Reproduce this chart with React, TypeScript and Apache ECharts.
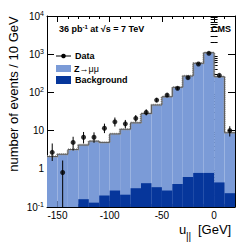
import React, { useEffect, useRef } from 'react';
import * as echarts from 'echarts';

// ---- data ----
const binLow = [-160, -150, -140, -130, -120, -110, -100, -90, -80, -70, -60, -50, -40, -30, -20, -10, 0, 10];
const binWidth = 10;
const mcTotal = [2.1, 2.4, 3.2, 4.2, 5.3, 4.9, 8.2, 10.8, 16, 28, 47, 77, 136, 269, 578, 1095, 258, 8.8];
const background = [0, 0, 0, 0.16, 0.13, 0.2, 0.27, 0.21, 0.31, 0.42, 0.33, 0.27, 0.4, 0.61, 0.78, 0.78, 0.44, 0.23];
const dataVal = [2.7, 0.8, 4.9, 6.7, 6.7, 11.5, 17, 15, 21, 30, 63, 85, 128, 243, 554, 1056, 280, 10];
const dataLow = [1.6, 0.1, 3.0, 4.6, 4.8, 8.6, 12.8, 11.5, 17, 25, 55, 76, 117, 228, 531, 1024, 263, 7];
const dataHigh = [4.6, 1.65, 6.9, 9.2, 9.0, 15.2, 22, 19, 25.5, 36, 71, 94, 139, 258, 577, 1088, 297, 13];
const xTickLabels = [-150, -100, -50, 0];
const yDecades = [0.1, 1, 10, 100, 1000, 10000];

const X_MIN = -160;
const X_MAX = 20;
const Y_MIN = 0.1;
const Y_MAX = 10000;

const LIGHT = '#7b9bd7';
const DARK = '#06369b';
const FONT = '"Liberation Sans", Arial, Helvetica, sans-serif';

const yMinor: number[] = [];
for (let d = 0; d < yDecades.length - 1; d++) {
  for (let k = 2; k <= 9; k++) yMinor.push(Number((yDecades[d] * k).toPrecision(3)));
}

function yFmt(v: number) {
  const e = Math.round(Math.log10(v));
  if (e === 0) return '1';
  if (e === 1) return '10';
  return '10{s|' + e + '}';
}

export default function App() {
  const ref = useRef<HTMLDivElement>(null);
  useEffect(() => {
    if (!ref.current) return;
    const chart = echarts.init(ref.current, null, { renderer: 'svg' });

    const xBase = { type: 'value', min: X_MIN, max: X_MAX, splitLine: { show: false } };
    const yBase = { type: 'log', logBase: 10, min: Y_MIN, max: Y_MAX, splitLine: { show: false } };
    const axisLine = { show: true, onZero: false, lineStyle: { color: '#000', width: 1 } };

    const stepData = binLow.map((lo, i) => [lo, mcTotal[i]]).concat([[X_MAX, mcTotal[mcTotal.length - 1]]]);

    const option: any = {
      animation: false,
      grid: { left: 47, top: 16, right: 9, bottom: 42, containLabel: false },
      xAxis: [
        {
          ...xBase, position: 'bottom', axisLine,
          axisTick: { show: true, inside: true, length: 6, customValues: xTickLabels, lineStyle: { color: '#000' } },
          axisLabel: { show: true, customValues: xTickLabels, fontSize: 10, color: '#000', margin: 3, fontFamily: FONT },
        },
        {
          ...xBase, interval: 10, position: 'bottom', axisLine: { show: false },
          axisTick: { show: true, inside: true, length: 3, lineStyle: { color: '#000' } },
          axisLabel: { show: false },
        },
        {
          ...xBase, position: 'top', axisLine,
          axisTick: { show: true, inside: true, length: 6, customValues: xTickLabels, lineStyle: { color: '#000' } },
          axisLabel: { show: false },
        },
        {
          ...xBase, interval: 10, position: 'top', axisLine: { show: false },
          axisTick: { show: true, inside: true, length: 3, lineStyle: { color: '#000' } },
          axisLabel: { show: false },
        },
      ],
      yAxis: [
        {
          ...yBase, position: 'left', axisLine,
          axisTick: { show: true, inside: true, length: 7, customValues: yDecades, lineStyle: { color: '#000' } },
          axisLabel: {
            show: true, customValues: yDecades, formatter: yFmt, fontSize: 10, color: '#000', margin: 3, fontFamily: FONT,
            rich: { s: { fontSize: 7, fontFamily: FONT, color: '#000', padding: [0, 0, 6, 0] } },
          },
        },
        {
          ...yBase, position: 'left', axisLine: { show: false },
          axisTick: { show: true, inside: true, length: 3.5, customValues: yMinor, lineStyle: { color: '#000' } },
          axisLabel: { show: false },
        },
        {
          ...yBase, position: 'right', axisLine,
          axisTick: { show: true, inside: true, length: 7, customValues: yDecades, lineStyle: { color: '#000' } },
          axisLabel: { show: false },
        },
        {
          ...yBase, position: 'right', axisLine: { show: false },
          axisTick: { show: true, inside: true, length: 3.5, customValues: yMinor, lineStyle: { color: '#000' } },
          axisLabel: { show: false },
        },
      ],
      series: [
        {
          type: 'custom', name: 'mc', xAxisIndex: 0, yAxisIndex: 0, silent: true, z: 1,
          data: binLow.map((lo, i) => [lo, mcTotal[i]]),
          renderItem: (params: any, api: any) => {
            const lo = api.value(0);
            const v = api.value(1);
            const p0 = api.coord([lo, Y_MIN]);
            const p1 = api.coord([lo + binWidth, v]);
            return { type: 'rect', shape: { x: p0[0], y: p1[1], width: p1[0] - p0[0], height: p0[1] - p1[1] }, style: { fill: LIGHT } };
          },
        },
        {
          type: 'custom', name: 'bkg', xAxisIndex: 0, yAxisIndex: 0, silent: true, z: 2,
          data: binLow.map((lo, i) => [lo, background[i]]),
          renderItem: (params: any, api: any) => {
            const lo = api.value(0);
            const v = api.value(1);
            if (!(v > Y_MIN)) return null;
            const p0 = api.coord([lo, Y_MIN]);
            const p1 = api.coord([lo + binWidth, v]);
            return { type: 'rect', shape: { x: p0[0], y: p1[1], width: p1[0] - p0[0], height: p0[1] - p1[1] }, style: { fill: DARK } };
          },
        },
        {
          type: 'line', name: 'band', xAxisIndex: 0, yAxisIndex: 0, silent: true, z: 3,
          data: stepData, step: 'end', symbol: 'none',
          lineStyle: { color: '#9a9a9a', width: 2.5, type: [1, 1] },
        },
        {
          type: 'line', name: 'outline', xAxisIndex: 0, yAxisIndex: 0, silent: true, z: 4,
          data: stepData, step: 'end', symbol: 'none',
          lineStyle: { color: '#5a5a5a', width: 1 },
        },
        {
          type: 'custom', name: 'err', xAxisIndex: 0, yAxisIndex: 0, silent: true, z: 5,
          data: binLow.map((lo, i) => [lo + binWidth / 2, dataLow[i], dataHigh[i]]),
          renderItem: (params: any, api: any) => {
            const x = api.value(0);
            const a = api.coord([x, api.value(1)]);
            const b = api.coord([x, api.value(2)]);
            return { type: 'line', shape: { x1: a[0], y1: a[1], x2: b[0], y2: b[1] }, style: { stroke: '#000', lineWidth: 1 } };
          },
        },
        {
          type: 'scatter', name: 'Data', xAxisIndex: 0, yAxisIndex: 0, silent: true, z: 6,
          data: binLow.map((lo, i) => [lo + binWidth / 2, dataVal[i]]),
          symbol: 'circle', symbolSize: 5, itemStyle: { color: '#000' },
        },
      ],
      graphic: [
        {
          type: 'text', x: 13, y: 94, rotation: Math.PI / 2,
          style: { text: 'number of events / 10 GeV', fontSize: 13, fontFamily: FONT, fill: '#000', align: 'center', verticalAlign: 'middle' },
        },
        {
          type: 'text', x: 179, y: 229,
          style: { text: 'u', fontSize: 13, fontFamily: FONT, fill: '#000', align: 'left', verticalAlign: 'middle' },
        },
        {
          type: 'text', x: 186, y: 236,
          style: { text: '||', fontSize: 10, fontFamily: FONT, fill: '#000', align: 'left', verticalAlign: 'middle' },
        },
        {
          type: 'text', x: 198, y: 229,
          style: { text: '[GeV]', fontSize: 13, fontFamily: FONT, fill: '#000', align: 'left', verticalAlign: 'middle' },
        },
        {
          type: 'text', x: 59, y: 29,
          style: {
            text: '36 pb{s|-1} at √s = 7 TeV', fontSize: 9, fontWeight: 'bold', fontFamily: FONT, fill: '#000', align: 'left', verticalAlign: 'middle',
            rich: { s: { fontSize: 6, fontWeight: 'bold', fontFamily: FONT, fill: '#000', padding: [0, 0, 5, 0] } },
          },
        },
        {
          type: 'text', x: 231, y: 29,
          style: { text: 'CMS', fontSize: 9, fontWeight: 'bold', fontFamily: FONT, fill: '#000', align: 'right', verticalAlign: 'middle' },
        },
        { type: 'line', shape: { x1: 56, y1: 56, x2: 71, y2: 56 }, style: { stroke: '#000', lineWidth: 1 } },
        { type: 'circle', shape: { cx: 63.5, cy: 56, r: 2.3 }, style: { fill: '#000' } },
        {
          type: 'text', x: 75, y: 56,
          style: { text: 'Data', fontSize: 9, fontWeight: 'bold', fontFamily: FONT, fill: '#000', align: 'left', verticalAlign: 'middle' },
        },
        { type: 'rect', shape: { x: 56, y: 65, width: 15, height: 7 }, style: { fill: LIGHT } },
        {
          type: 'text', x: 74, y: 69,
          style: {
            text: '{b|Z}{n|→μμ}', fontFamily: FONT, fill: '#000', align: 'left', verticalAlign: 'middle',
            rich: {
              b: { fontSize: 9, fontWeight: 'bold', fontFamily: FONT, fill: '#000' },
              n: { fontSize: 9, fontWeight: 'normal', fontFamily: FONT, fill: '#000' },
            },
          },
        },
        { type: 'rect', shape: { x: 56, y: 76, width: 15, height: 8 }, style: { fill: DARK } },
        {
          type: 'text', x: 75, y: 80,
          style: { text: 'Background', fontSize: 9, fontWeight: 'bold', fontFamily: FONT, fill: '#000', align: 'left', verticalAlign: 'middle' },
        },
      ],
    };

    chart.setOption(option);
    return () => chart.dispose();
  }, []);

  return <div ref={ref} style={{ position: 'absolute', left: 0, top: 0, width: 244, height: 249 }} />;
}
